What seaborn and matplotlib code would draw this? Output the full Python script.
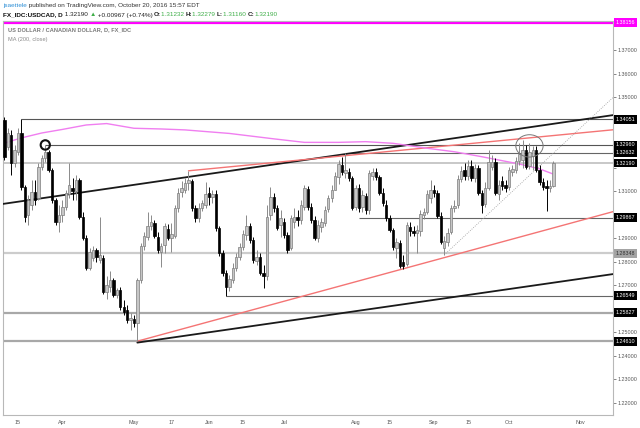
import matplotlib
matplotlib.use("Agg")
import matplotlib.pyplot as plt
import matplotlib.transforms as mtransforms
from matplotlib.patches import Ellipse
import numpy as np
import pandas as pd
import seaborn as sns

sns.set_style("white")
plt.rcParams["font.family"] = ["Liberation Sans", "DejaVu Sans"]

# ==========================================
# Data: FX_IDC:USDCAD daily bars, 2016-03-09 .. 2016-10-20 (weekdays)
# ==========================================
first_day, last_day = "2016-03-09", "2016-10-20"

opens = [
    # Mar
    1.3402, 1.3288, 1.3338, 1.3219, 1.3266, 1.3347, 1.3117, 1.2998, 1.3041, 1.3096,
    1.3070, 1.3202, 1.3240, 1.3266, 1.3189, 1.3062, 1.2968,
    # Apr
    1.2998, 1.3032, 1.3088, 1.3113, 1.3100, 1.3147, 1.2990, 1.2900, 1.2772, 1.2815,
    1.2849, 1.2806, 1.2815, 1.2670, 1.2690, 1.2721, 1.2658, 1.2679, 1.2607, 1.2594,
    1.2551,
    # May
    1.2555, 1.2538, 1.2721, 1.2866, 1.2904, 1.2951, 1.2964, 1.2904, 1.2840, 1.2870,
    1.2940, 1.2900, 1.2909, 1.3028, 1.3096, 1.3104, 1.3134, 1.3143, 1.3028, 1.2985,
    1.3028, 1.3041,
    # Jun
    1.3092, 1.3075, 1.3087, 1.2943, 1.2836, 1.2751, 1.2692, 1.2721, 1.2772, 1.2819,
    1.2862, 1.2913, 1.2951, 1.2892, 1.2802, 1.2819, 1.2751, 1.2738, 1.2998, 1.3075,
    1.3028, 1.2955,
    # Jul
    1.2968, 1.2913, 1.2858, 1.2968, 1.2990, 1.2977, 1.3032, 1.3109, 1.3032, 1.2977,
    1.2900, 1.2947, 1.2964, 1.3024, 1.3070, 1.3104, 1.3160, 1.3211, 1.3177, 1.3181,
    1.3155,
    # Aug
    1.3032, 1.3113, 1.3032, 1.3079, 1.3019, 1.3164, 1.3181, 1.3160, 1.3092, 1.3041,
    1.2985, 1.2934, 1.2858, 1.2879, 1.2798, 1.2790, 1.2947, 1.2930, 1.2921, 1.2930,
    1.2998, 1.3011, 1.3070,
    # Sep
    1.3104, 1.3092, 1.2994, 1.2858, 1.2883, 1.2926, 1.3028, 1.3041, 1.3151, 1.3189,
    1.3164, 1.3206, 1.3155, 1.3198, 1.3092, 1.3045, 1.3113, 1.3202, 1.3224, 1.3087,
    1.3143, 1.3126,
    # Oct
    1.3117, 1.3181, 1.3189, 1.3228, 1.3230, 1.3275, 1.3206, 1.3249, 1.3275, 1.3189,
    1.3138, 1.3121, 1.3113, 1.31232,
]
highs = [
    1.3415, 1.3368, 1.3360, 1.3296, 1.3368, 1.3405, 1.3126, 1.3083, 1.3147, 1.3147,
    1.3219, 1.3253, 1.3296, 1.3275, 1.3198, 1.3070, 1.3041,
    1.3062, 1.3104, 1.3219, 1.3155, 1.3168, 1.3155, 1.3011, 1.2913, 1.2858, 1.2866,
    1.2858, 1.2990, 1.2828, 1.2740, 1.2760, 1.2730, 1.2687, 1.2692, 1.2636, 1.2615,
    1.2581,
    1.2573, 1.2730, 1.2879, 1.2926, 1.3011, 1.2998, 1.2977, 1.2926, 1.2879, 1.2964,
    1.2960, 1.2964, 1.3041, 1.3113, 1.3143, 1.3155, 1.3186, 1.3151, 1.3041, 1.3049,
    1.3062, 1.3139,
    1.3117, 1.3104, 1.3104, 1.2951, 1.2849, 1.2764, 1.2743, 1.2794, 1.2836, 1.2879,
    1.2934, 1.2998, 1.2964, 1.2904, 1.2849, 1.2836, 1.2785, 1.3041, 1.3117, 1.3092,
    1.3041, 1.3019,
    1.2985, 1.2926, 1.2998, 1.3028, 1.3019, 1.3062, 1.3126, 1.3122, 1.3049, 1.2994,
    1.2977, 1.2985, 1.3036, 1.3083, 1.3126, 1.3181, 1.3232, 1.3245, 1.3263, 1.3198,
    1.3164,
    1.3126, 1.3130, 1.3104, 1.3092, 1.3189, 1.3198, 1.3198, 1.3168, 1.3113, 1.3062,
    1.2998, 1.2943, 1.2900, 1.2892, 1.2828, 1.2968, 1.2968, 1.2951, 1.2955, 1.3019,
    1.3028, 1.3104, 1.3147,
    1.3126, 1.3104, 1.3011, 1.2909, 1.2943, 1.3041, 1.3062, 1.3168, 1.3206, 1.3219,
    1.3232, 1.3232, 1.3215, 1.3211, 1.3104, 1.3139, 1.3275, 1.3253, 1.3240, 1.3147,
    1.3164, 1.3147,
    1.3202, 1.3211, 1.3245, 1.3304, 1.3317, 1.3296, 1.3304, 1.3292, 1.3292, 1.3211,
    1.3155, 1.3147, 1.3147, 1.32279,
]
lows = [
    1.3232, 1.3275, 1.3168, 1.3202, 1.3253, 1.3104, 1.2968, 1.2955, 1.3019, 1.3041,
    1.3062, 1.3189, 1.3223, 1.3181, 1.3049, 1.2955, 1.2926,
    1.2968, 1.3019, 1.3070, 1.3062, 1.3062, 1.2981, 1.2892, 1.2764, 1.2764, 1.2802,
    1.2798, 1.2794, 1.2662, 1.2640, 1.2670, 1.2650, 1.2645, 1.2594, 1.2573, 1.2538,
    1.2509,
    1.2521, 1.2461, 1.2709, 1.2849, 1.2892, 1.2934, 1.2900, 1.2836, 1.2777, 1.2836,
    1.2892, 1.2840, 1.2900, 1.3011, 1.3075, 1.3092, 1.3104, 1.3015, 1.2968, 1.2968,
    1.3015, 1.3028,
    1.3041, 1.3049, 1.2930, 1.2824, 1.2739, 1.2655, 1.2675, 1.2709, 1.2760, 1.2806,
    1.2849, 1.2892, 1.2879, 1.2794, 1.2785, 1.2743, 1.2688, 1.2721, 1.2977, 1.3011,
    1.2934, 1.2904,
    1.2900, 1.2836, 1.2849, 1.2943, 1.2951, 1.2960, 1.3019, 1.3019, 1.2964, 1.2892,
    1.2883, 1.2926, 1.2951, 1.3011, 1.3053, 1.3104, 1.3130, 1.3168, 1.3155, 1.3143,
    1.3019,
    1.3019, 1.3011, 1.3011, 1.3002, 1.3002, 1.3147, 1.3147, 1.3083, 1.3036, 1.2973,
    1.2926, 1.2849, 1.2815, 1.2772, 1.2768, 1.2780, 1.2909, 1.2909, 1.2836, 1.2909,
    1.2981, 1.3002, 1.3049,
    1.3075, 1.2985, 1.2875, 1.2828, 1.2866, 1.2917, 1.3011, 1.3028, 1.3139, 1.3147,
    1.3147, 1.3143, 1.3139, 1.3083, 1.3007, 1.3032, 1.3104, 1.3189, 1.3083, 1.3062,
    1.3104, 1.3096,
    1.3104, 1.3164, 1.3177, 1.3211, 1.3198, 1.3194, 1.3194, 1.3189, 1.3181, 1.3126,
    1.3104, 1.3015, 1.3096, 1.31160,
]
closes = [
    1.3245, 1.3347, 1.3219, 1.3275, 1.3347, 1.3117, 1.2990, 1.3062, 1.3096, 1.3062,
    1.3202, 1.3240, 1.3266, 1.3189, 1.3062, 1.2968, 1.2998,
    1.3032, 1.3092, 1.3126, 1.3100, 1.3147, 1.2990, 1.2900, 1.2772, 1.2840, 1.2849,
    1.2819, 1.2828, 1.2670, 1.2700, 1.2721, 1.2658, 1.2679, 1.2607, 1.2585, 1.2551,
    1.2560,
    1.2538, 1.2721, 1.2866, 1.2909, 1.2951, 1.2968, 1.2909, 1.2849, 1.2866, 1.2951,
    1.2900, 1.2917, 1.3028, 1.3092, 1.3113, 1.3134, 1.3147, 1.3028, 1.2985, 1.3028,
    1.3049, 1.3087,
    1.3075, 1.3087, 1.2943, 1.2836, 1.2751, 1.2692, 1.2726, 1.2772, 1.2819, 1.2862,
    1.2917, 1.2951, 1.2892, 1.2806, 1.2819, 1.2751, 1.2738, 1.2990, 1.3075, 1.3028,
    1.2943, 1.2985,
    1.2913, 1.2849, 1.2985, 1.2990, 1.2977, 1.3041, 1.3113, 1.3032, 1.2977, 1.2900,
    1.2955, 1.2968, 1.3019, 1.3070, 1.3104, 1.3164, 1.3215, 1.3181, 1.3189, 1.3155,
    1.3028,
    1.3113, 1.3028, 1.3083, 1.3019, 1.3177, 1.3181, 1.3160, 1.3092, 1.3049, 1.2985,
    1.2934, 1.2862, 1.2883, 1.2781, 1.2781, 1.2955, 1.2930, 1.2921, 1.2934, 1.3002,
    1.3011, 1.3087, 1.3104,
    1.3092, 1.2994, 1.2883, 1.2887, 1.2921, 1.3028, 1.3036, 1.3151, 1.3185, 1.3164,
    1.3206, 1.3155, 1.3198, 1.3092, 1.3041, 1.3113, 1.3224, 1.3224, 1.3092, 1.3126,
    1.3121, 1.3113,
    1.3189, 1.3194, 1.3228, 1.3258, 1.3275, 1.3202, 1.3266, 1.3275, 1.3189, 1.3138,
    1.3117, 1.3113, 1.3123, 1.32190,
]

# MA(200, close)
ma_dates = ["2016-03-09", "2016-03-16", "2016-03-24", "2016-04-01", "2016-04-12",
            "2016-04-20", "2016-05-02", "2016-05-12", "2016-05-23", "2016-06-09",
            "2016-06-28", "2016-07-11", "2016-07-25", "2016-08-04", "2016-08-16",
            "2016-08-30", "2016-09-09", "2016-09-21", "2016-10-06", "2016-10-14",
            "2016-10-20"]
ma_values = [1.3304, 1.3326, 1.3347, 1.3362, 1.3381, 1.3387, 1.3367, 1.3364, 1.3360,
             1.3345, 1.3322, 1.3307, 1.3307, 1.3310, 1.3303, 1.3282, 1.3267, 1.3246,
             1.3215, 1.3194, 1.3172]

# horizontal levels and the day each one starts (None = whole width)
levels = [1.38156, 1.34051, 1.32960, 1.32632, 1.32190, 1.29867, 1.28348, 1.26549,
          1.25827, 1.24610]
level_start = [None, "2016-03-16", "2016-03-25", "2016-07-27", None, "2016-08-02",
               None, "2016-06-08", None, None]

# trend lines: two anchor points each
trend_d1 = ["2016-03-09", "2016-05-03", "2016-05-03", "2016-05-24", "2016-09-06"]
trend_p1 = [1.3046, 1.2461, 1.2455, 1.3186, 1.2828]
trend_d2 = ["2016-10-20", "2016-10-20", "2016-10-20", "2016-10-20", "2016-10-20"]
trend_p2 = [1.3386, 1.2943, 1.2710, 1.3336, 1.3261]

# circled highs
circle_dates = ["2016-03-25", "2016-10-11"]
circle_prices = [1.3296, 1.3292]

tick_dates = ["2016-03-15", "2016-04-01", "2016-05-02", "2016-05-17", "2016-06-01",
              "2016-06-15", "2016-07-01", "2016-08-01", "2016-08-15", "2016-09-01",
              "2016-09-15", "2016-10-03", "2016-11-01"]
tick_labels = ["15", "Apr", "May", "17", "Jun", "15", "Jul", "Aug", "15", "Sep",
               "15", "Oct", "Nov"]

# ==========================================
# Layout helpers
# ==========================================
W, H = 640, 428
all_days = pd.bdate_range(first_day, "2016-12-30")
pos = {d.strftime("%Y-%m-%d"): i for i, d in enumerate(all_days)}
bar_days = pd.bdate_range(first_day, last_day)
xs = np.arange(len(bar_days))
assert len(xs) == len(opens) == len(highs) == len(lows) == len(closes)

fig = plt.figure(figsize=(W / 100, H / 100), dpi=100)
L, R, T, B = 3, 613, 21, 415
ax = fig.add_axes([L / W, 1 - B / H, (R - L) / W, (B - T) / H])
x_lo, x_hi = -0.4, 178.5
y_lo, y_hi = 1.2147, 1.38234
ax.set_xlim(x_lo, x_hi)
ax.set_ylim(y_lo, y_hi)

# ==========================================
# Levels, trend lines, MA
# ==========================================
lvl_color = ["#ff00ff", "#555555", "#555555", "#666666", "#c4c4c4", "#666666",
             "#cccccc", "#666666", "#a8a8a8", "#a8a8a8"]
lvl_width = [1.6, 0.8, 0.8, 0.8, 1.3, 0.8, 1.6, 0.8, 1.6, 1.6]
for lv, st, col, lw in zip(levels, level_start, lvl_color, lvl_width):
    x0 = x_lo if st is None else pos[st]
    ax.hlines(lv, x0, x_hi, color=col, lw=lw, zorder=2)

tr_color = ["#1a1a1a", "#f47474", "#1a1a1a", "#f47474", "#9a9a9a"]
tr_width = [1.3, 1.0, 1.3, 1.0, 0.6]
tr_style = ["-", "-", "-", "-", ":"]
for k in range(len(trend_d1)):
    xa, xb = pos[trend_d1[k]], pos[trend_d2[k]]
    slope = (trend_p2[k] - trend_p1[k]) / (xb - xa)
    x_start = x_lo if k == 0 else xa
    xx = [x_start, x_hi]
    yy = [trend_p1[k] + slope * (v - xa) for v in xx]
    ax.plot(xx, yy, color=tr_color[k], lw=tr_width[k], ls=tr_style[k], zorder=3)

sns.lineplot(x=[pos[d] for d in ma_dates], y=ma_values, ax=ax, color="#f07ef0",
             lw=1.0, zorder=3)

# ==========================================
# Candles
# ==========================================
o = np.array(opens); h = np.array(highs); l = np.array(lows); c = np.array(closes)
up = c >= o
body_lo = np.minimum(o, c)
body_h = np.maximum(np.abs(c - o), 0.00012)
ax.vlines(xs[up], l[up], h[up], color="#8a8a8a", lw=0.7, zorder=4)
ax.vlines(xs[~up], l[~up], h[~up], color="#000000", lw=0.7, zorder=4)
ax.bar(xs[up], body_h[up], bottom=body_lo[up], width=0.7, color="#c6c6c6",
       edgecolor="#7d7d7d", linewidth=0.5, zorder=5)
ax.bar(xs[~up], body_h[~up], bottom=body_lo[~up], width=0.7, color="#000000",
       edgecolor="#000000", linewidth=0.5, zorder=5)

# circles
ax.add_patch(Ellipse((pos[circle_dates[0]], circle_prices[0]), 2.7, 0.0040,
                     fill=False, ec="#111111", lw=1.5, zorder=6))
ax.add_patch(Ellipse((pos[circle_dates[1]], circle_prices[1]), 8.0, 0.0095,
                     fill=False, ec="#777777", lw=0.7, zorder=6))

# ==========================================
# Axes styling
# ==========================================
for s in ax.spines.values():
    s.set_color("#b8b8b8")
    s.set_linewidth(0.8)
ax.yaxis.tick_right()
yt = np.round(np.arange(1.22, 1.3801, 0.01), 2)
ax.set_yticks(yt)
# tick values sitting under a price box are not shown
ax.set_yticklabels(["" if min(abs(v - lv) for lv in levels) < 0.003 else f"{v:.5f}"
                    for v in yt])
ax.tick_params(axis="y", labelsize=3.9, colors="#555555", length=2, width=0.5, pad=1)
ax.set_xticks([pos[d] for d in tick_dates])
ax.set_xticklabels(tick_labels)
ax.tick_params(axis="x", labelsize=3.9, colors="#555555", length=2, width=0.5, pad=1.5)
ax.set_xlabel("")
ax.set_ylabel("")

# price boxes on the right axis
box_fc = ["#ff00ff", "black", "black", "black", "black", "black", "#a4a4a4",
          "black", "black", "black"]
box_tc = ["white", "white", "white", "white", "white", "white", "#303030",
          "white", "white", "white"]
ytr = ax.get_yaxis_transform()
for lv, fc, tc in zip(levels, box_fc, box_tc):
    ax.text(1.004, lv, f"{lv:.5f}", transform=ytr, ha="left", va="center",
            fontsize=3.9, color=tc, clip_on=False, zorder=20,
            bbox=dict(boxstyle="square,pad=0.35", fc=fc, ec="none"))

# titles inside the pane
ax.text(0.008, 0.977, "US DOLLAR / CANADIAN DOLLAR, D, FX_IDC", transform=ax.transAxes,
        fontsize=4.1, color="#7a7a7a", fontweight="bold", ha="left", va="center")
ax.text(0.008, 0.954, "MA (200, close)", transform=ax.transAxes,
        fontsize=4.1, color="#8a8a8a", ha="left", va="center")

# ==========================================
# Header rows
# ==========================================
renderer = fig.canvas.get_renderer()
idt = mtransforms.IdentityTransform()


def put_row(pieces, x0, y_top, size):
    x = x0
    for text, color, weight in pieces:
        t = fig.text(x, H - y_top, text, transform=idt, fontsize=size, color=color,
                     fontweight=weight, ha="left", va="center")
        x += t.get_window_extent(renderer).width


green = "#3fae49"
put_row([("jsaettele", "#2e8fd6", "normal"),
         (" published on TradingView.com, October 20, 2016 15:57 EDT", "#333333", "normal")],
        3, 6, 4.6)
put_row([("FX_IDC:USDCAD, D", "#111111", "bold"),
         (" 1.32190 ", "#222222", "normal"),
         ("\u25b2", green, "normal"),
         (" +0.00967 (+0.74%) ", "#222222", "normal"),
         ("O:", "#222222", "bold"), ("1.31232 ", green, "normal"),
         ("H:", "#222222", "bold"), ("1.32279 ", green, "normal"),
         ("L:", "#222222", "bold"), ("1.31160 ", green, "normal"),
         ("C:", "#222222", "bold"), ("1.32190", green, "normal")],
        3, 15, 4.6)

fig.savefig("out.png", dpi=100)
plt.close(fig)
